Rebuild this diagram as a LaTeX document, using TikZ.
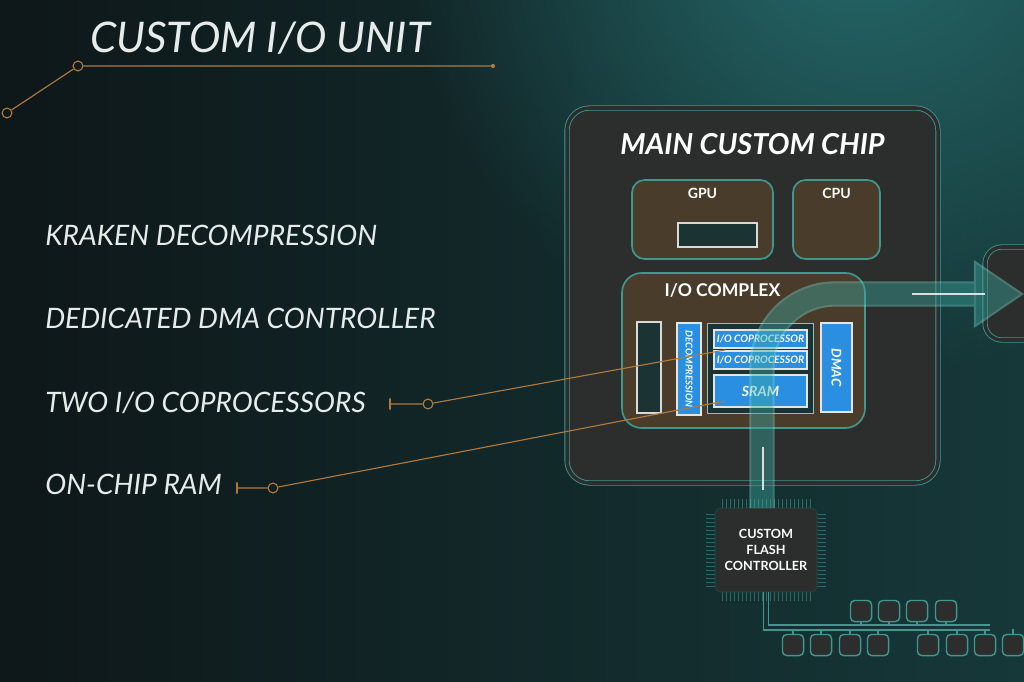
\documentclass[tikz,border=0pt]{standalone}
\usepackage{fontspec}
\setmainfont{Lato}
\usetikzlibrary{positioning,fit,fadings}
\definecolor{bgdark}{HTML}{0E1719}
\definecolor{bgteal}{HTML}{163839}
\definecolor{glow}{HTML}{26696A}
\definecolor{txt}{HTML}{E6ECEA}
\definecolor{lead}{HTML}{B07A3E}
\definecolor{rim}{HTML}{3F978F}
\definecolor{chipfill}{HTML}{2B2E2C}
\definecolor{unitbrown}{HTML}{4A3C2B}
\definecolor{slotfill}{HTML}{1B3433}
\definecolor{blkblue}{HTML}{2A8FE0}
\definecolor{bandrim}{HTML}{74D6CC}
\definecolor{bandfill}{HTML}{3AA9A0}
\tikzfading[name=glowfade, inner color=transparent!0, outer color=transparent!100]
\tikzset{
  heading/.style={text=txt, font=\fontsize{30}{33}\selectfont\itshape, inner sep=0pt, anchor=base west},
  item/.style={text=txt, font=\fontsize{20}{22}\selectfont\itshape, inner sep=0pt, anchor=base west},
  lead/.style={draw=lead, line width=0.8pt},
  ring/.style={circle, draw=lead, line width=0.8pt, minimum size=7pt, inner sep=0pt},
  ldtick/.style={draw=lead, line width=0.8pt, minimum width=0pt, minimum height=8pt, inner sep=0pt},
  enddot/.style={circle, fill=lead, minimum size=3pt, inner sep=0pt},
  chip/.style={draw=rim, double=chipfill, double distance=2.5pt, fill=chipfill, line width=0.6pt, rounded corners=16pt, inner sep=0pt},
  unitbox/.style={draw=rim, fill=unitbrown, line width=1.2pt, rounded corners=9pt, inner sep=0pt},
  slot/.style={draw=white!85!black, fill=slotfill, line width=1pt, inner sep=0pt},
  blk/.style={draw=white!90!black, fill=blkblue, line width=0.8pt, inner sep=0pt},
  lbl/.style={text=white, font=\bfseries\fontsize{10}{12}\selectfont, inner sep=0pt},
  blbl/.style={text=white, font=\bfseries\itshape\fontsize{7.3}{8}\selectfont, inner sep=0pt},
  nand/.style={draw=rim, fill=chipfill, line width=1pt, rounded corners=3pt, minimum size=15pt, inner sep=0pt},
  wire/.style={draw=rim, line width=0.8pt},
  pinline/.style={draw=rim!70!black, line width=0.5pt},
}
\begin{document}
\begin{tikzpicture}[x=0.025cm, y=-0.025cm]
\useasboundingbox (0,0) rectangle (1024,682);
\clip (0,0) rectangle (1024,682);
\shade[left color=bgdark, right color=bgteal] (0,0) rectangle (1024,682);
\fill[glow, path fading=glowfade] (860,-80) circle (460);

% heading and list
\node[heading] (title) at (90,53) {CUSTOM I/O UNIT};
\node[ring] (r0) at (7,113) {};
\node[ring] (r1) at (78,66) {};
\node[enddot] (e1) at (493,66) {};
\draw[lead] (r0) -- (r1) -- (e1);

\node[item] (kraken) at (45,246) {KRAKEN DECOMPRESSION};
\node[item] (dma) at (45,328) {DEDICATED DMA CONTROLLER};
\node[item] (twoio) at (45,412) {TWO I/O COPROCESSORS};
\node[item] (onchip) at (45,494) {ON-CHIP RAM};

% main chip
\node[chip, fit={(567,108) (938,483)}] (chip) {};
\node[lbl, font=\bfseries\itshape\fontsize{20.5}{22}\selectfont, below=18pt of chip.north] (chiptitle) {MAIN CUSTOM CHIP};

\node[unitbox, fit={(632,180) (773,259)}] (gpu) {};
\node[lbl, below=6pt of gpu.north] {GPU};
\node[slot, fit={(678,223) (757,247)}] (gpuslot) {};
\node[unitbox, fit={(793,180) (880,259)}] (cpu) {};
\node[lbl, below=6pt of cpu.north] {CPU};

\node[unitbox, rounded corners=14pt, fit={(622,273) (865,428)}] (iocx) {};
\node[lbl, font=\bfseries\fontsize{12.5}{14}\selectfont, below=8pt of iocx.north, xshift=-15pt] {I/O COMPLEX};

\node[slot, fit={(637,322) (661,413)}] (blank) {};
\node[blk, fit={(677,323) (701,415)}] (decomp) {};
\node[blbl, font=\bfseries\itshape\fontsize{6.8}{8}\selectfont, rotate=-90] at (decomp.center) {DECOMPRESSION};
\node[slot, draw=rim!60!white, line width=0.6pt, fit={(707,323) (813,413)}] (mid) {};
\node[blk, fit={(714,330) (807,348)}] (cop1) {};
\node[blbl] at (cop1.center) {I/O COPROCESSOR};
\node[blk, fit={(714,351) (807,369)}] (cop2) {};
\node[blbl] at (cop2.center) {I/O COPROCESSOR};
\node[blk, fit={(714,375) (807,407)}] (sram) {};
\node[blbl, font=\bfseries\itshape\fontsize{10}{11}\selectfont] at (sram.center) {SRAM};
\node[blk, fit={(821,323) (852,412)}] (dmac) {};
\node[blbl, font=\bfseries\itshape\fontsize{9.5}{10}\selectfont, rotate=-90] at (dmac.center) {DMAC};

% next box on the right
\node[chip, rounded corners=12pt, fit={(985,247) (1080,340)}] (nextbox) {};

% flash controller
\foreach \y in {514,518,...,586} {
  \draw[pinline] (706,\y) -- (715,\y);
  \draw[pinline] (817,\y) -- (826,\y);
}
\foreach \x in {722,726,...,810} {
  \draw[pinline] (\x,499) -- (\x,508);
  \draw[pinline] (\x,592) -- (\x,601);
}
\node[draw=rim!50!black, fill=chipfill, rounded corners=4pt, inner sep=0pt, fit={(715,508) (817,592)}] (flash) {};
\node[lbl, align=center, font=\bfseries\fontsize{9}{11.5}\selectfont] at (flash.center) {CUSTOM\\FLASH\\CONTROLLER};

\foreach \x [count=\i] in {861,889,917,946} \node[nand] (nt\i) at (\x,611) {};
\foreach \x [count=\i] in {793,821,850,878,928,957,985,1013} \node[nand] (nb\i) at (\x,645) {};
\draw[wire] ([xshift=-2pt]flash.south) |- (990,630);
\draw[wire] ([xshift=2pt]flash.south) |- (990,625);
\foreach \i in {1,...,4} \draw[wire] (nt\i.south) -- ++(0,4);
\foreach \i in {1,...,8} \draw[wire] (nb\i.north) -- ++(0,-5);

% data path
\begin{scope}[transparency group, opacity=.42]
  \draw[bandrim, line width=18pt, rounded corners=52pt] (762,508) -- (762,294) -- (980,294);
  \draw[bandfill, line width=15pt, rounded corners=52pt] (762,508) -- (762,294) -- (980,294);
  \filldraw[fill=bandfill, draw=bandrim, line width=1.5pt] (975,262) -- (1022,294) -- (975,326) -- cycle;
\end{scope}
\draw[white, opacity=.8, line width=1pt] (912,294) -- (985,294);
\draw[white, opacity=.8, line width=1pt] (763,447) -- (763,490);

% leaders
\node[ldtick] (k2) at (390,404) {};
\node[ring] (r2) at (428,404) {};
\coordinate (p2) at (725,350);
\draw[lead] (k2) -- (r2) -- (p2);
\node[ldtick] (k3) at (237,488) {};
\node[ring] (r3) at (273,488) {};
\coordinate (p3) at (725,401);
\draw[lead] (k3) -- (r3) -- (p3);
\end{tikzpicture}
\end{document}
